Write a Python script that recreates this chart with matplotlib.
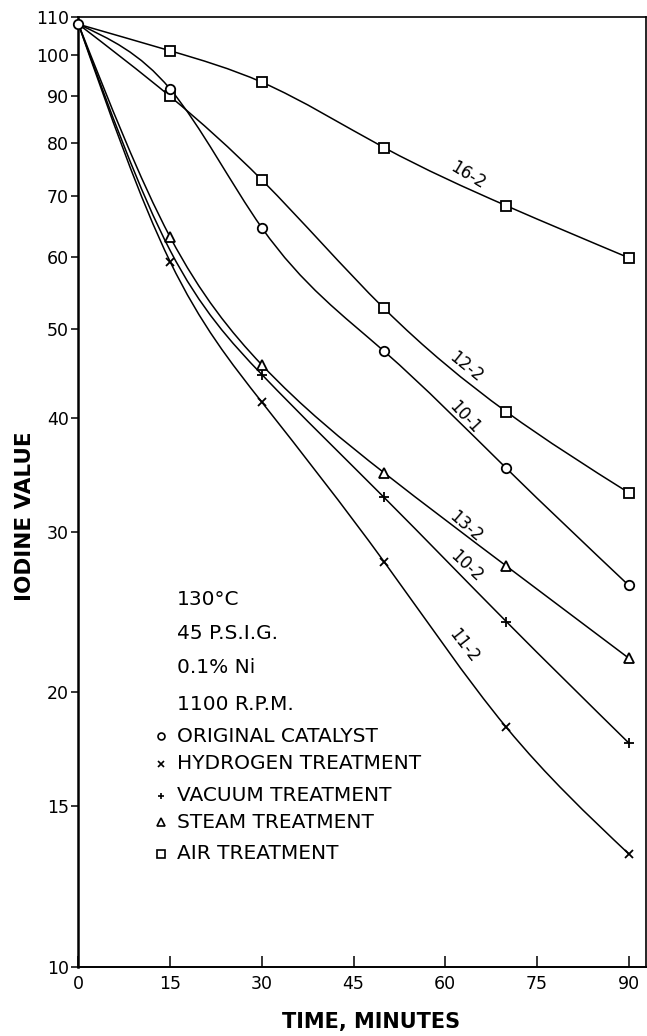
import numpy as np
import matplotlib
matplotlib.use('Agg')
import matplotlib.pyplot as plt
from matplotlib.path import Path
from matplotlib.patches import PathPatch
from matplotlib.ticker import NullLocator

# Hydrogenation runs: iodine value vs time
time_min = [0, 15, 30, 50, 70, 90]

original_10_1 = [108, 91.7, 64.6, 47.3, 35.2, 26.2]
hydrogen_11_2 = [108, 59.3, 41.6, 27.8, 18.3, 13.3]
vacuum_10_2 = [108, 61.0, 44.6, 32.7, 23.9, 17.6]
steam_13_2 = [108, 63.1, 45.7, 34.8, 27.5, 21.8]
air_12_2 = [108, 90.0, 72.9, 52.7, 40.6, 33.1]
air_16_2 = [108, 101.0, 93.3, 79.1, 68.3, 59.9]

x_ticks = [0, 15, 30, 45, 60, 75, 90]
y_ticks = [10, 15, 20, 30, 40, 50, 60, 70, 80, 90, 100, 110]

conditions = ['130°C', '45 P.S.I.G.', '0.1% Ni', '1100 R.P.M.']
legend_labels = ['ORIGINAL CATALYST', 'HYDROGEN TREATMENT', 'VACUUM TREATMENT',
                 'STEAM TREATMENT', 'AIR TREATMENT']
legend_markers = ['o', 'x', '+', '^', 's']

plt.rcParams['font.family'] = ['DejaVu Sans']


def smooth_path(x, y):
    # natural cubic spline through the points in (x, log y), as Bezier segments
    x = np.asarray(x, float)
    ly = np.log10(np.asarray(y, float))
    n = len(x)
    h = np.diff(x)
    d = np.diff(ly) / h
    A = np.zeros((n, n))
    b = np.zeros(n)
    A[0, 0], A[0, 1], b[0] = 2, 1, 3 * d[0]
    A[-1, -2], A[-1, -1], b[-1] = 1, 2, 3 * d[-1]
    for i in range(1, n - 1):
        A[i, i - 1] = h[i]
        A[i, i] = 2 * (h[i - 1] + h[i])
        A[i, i + 1] = h[i - 1]
        b[i] = 3 * (h[i] * d[i - 1] + h[i - 1] * d[i])
    m = np.linalg.solve(A, b)
    verts = [(x[0], 10 ** ly[0])]
    codes = [Path.MOVETO]
    for i in range(n - 1):
        verts += [(x[i] + h[i] / 3, 10 ** (ly[i] + m[i] * h[i] / 3)),
                  (x[i + 1] - h[i] / 3, 10 ** (ly[i + 1] - m[i + 1] * h[i] / 3)),
                  (x[i + 1], 10 ** ly[i + 1])]
        codes += [Path.CURVE4] * 3
    return Path(verts, codes)


def draw_run(ax, y, marker, ms, marks):
    ax.add_patch(PathPatch(smooth_path(time_min, y), fill=False,
                           edgecolor='black', lw=1.1))
    xs = [time_min[i] for i in marks]
    ys = [y[i] for i in marks]
    ax.plot(xs, ys, linestyle='none', marker=marker, ms=ms,
            mfc='white', mec='black', mew=1.3, zorder=3, clip_on=False)


fig = plt.figure(figsize=(6.47, 10.36), dpi=100)
ax = fig.add_axes([0.1213, 0.0669, 0.8767, 0.9167])
ax.set_yscale('log')
ax.set_xlim(0, 92.8)
ax.set_ylim(10, 110)

draw_run(ax, air_16_2, 's', 7.2, [1, 2, 3, 4, 5])
draw_run(ax, air_12_2, 's', 7.2, [1, 2, 3, 4, 5])
draw_run(ax, steam_13_2, '^', 7.0, [1, 2, 3, 4, 5])
draw_run(ax, vacuum_10_2, '+', 6.5, [2, 3, 4, 5])
draw_run(ax, hydrogen_11_2, 'x', 5.8, [1, 2, 3, 4, 5])
draw_run(ax, original_10_1, 'o', 6.8, [0, 1, 2, 3, 4, 5])

# run numbers written along the curves
run_tags = [('16-2', 63.7, 73.8, -31), ('12-2', 63.4, 45.4, -39),
            ('10-1', 63.1, 40.0, -47), ('13-2', 63.4, 30.4, -41),
            ('10-2', 63.4, 27.5, -43), ('11-2', 63.0, 22.5, -52)]
for tag, tx, ty, rot in run_tags:
    ax.text(tx, ty, tag, fontsize=12, rotation=rot, ha='center', va='center',
            rotation_mode='anchor')

# operating conditions and symbol key
cond_y = [25.3, 23.2, 21.3, 19.4]
for txt, cy in zip(conditions, cond_y):
    ax.text(16.1, cy, txt, fontsize=14.5, ha='left', va='center')
key_y = [17.9, 16.7, 15.4, 14.4, 13.3]
key_ms = [5, 5, 5, 5.5, 5.5]
for txt, mk, ky, ms in zip(legend_labels, legend_markers, key_y, key_ms):
    ax.plot([13.5], [ky], linestyle='none', marker=mk, ms=ms, mfc='white',
            mec='black', mew=1.2)
    ax.text(16.1, ky, txt, fontsize=14.5, ha='left', va='center')

ax.set_xticks(x_ticks)
ax.set_xticklabels([str(v) for v in x_ticks], fontsize=12.5)
ax.set_yticks(y_ticks)
ax.set_yticklabels([str(v) for v in y_ticks], fontsize=12.5)
ax.yaxis.set_minor_locator(NullLocator())
ax.tick_params(axis='x', direction='in', length=8, width=1.1, pad=6)
ax.tick_params(axis='y', direction='out', length=5, width=1.1, pad=2)

ax.spines['left'].set_linewidth(1.8)
ax.spines['bottom'].set_linewidth(1.4)
ax.spines['top'].set_linewidth(1.2)
ax.spines['right'].set_linewidth(1.2)

fig.text(0.573, 0.0135, 'TIME, MINUTES', fontsize=15, fontweight='bold',
         ha='center', va='center')
fig.text(0.039, 0.502, 'IODINE VALUE', fontsize=15.5, fontweight='bold',
         rotation=90, ha='center', va='center')

fig.savefig('out.png', dpi=100)
